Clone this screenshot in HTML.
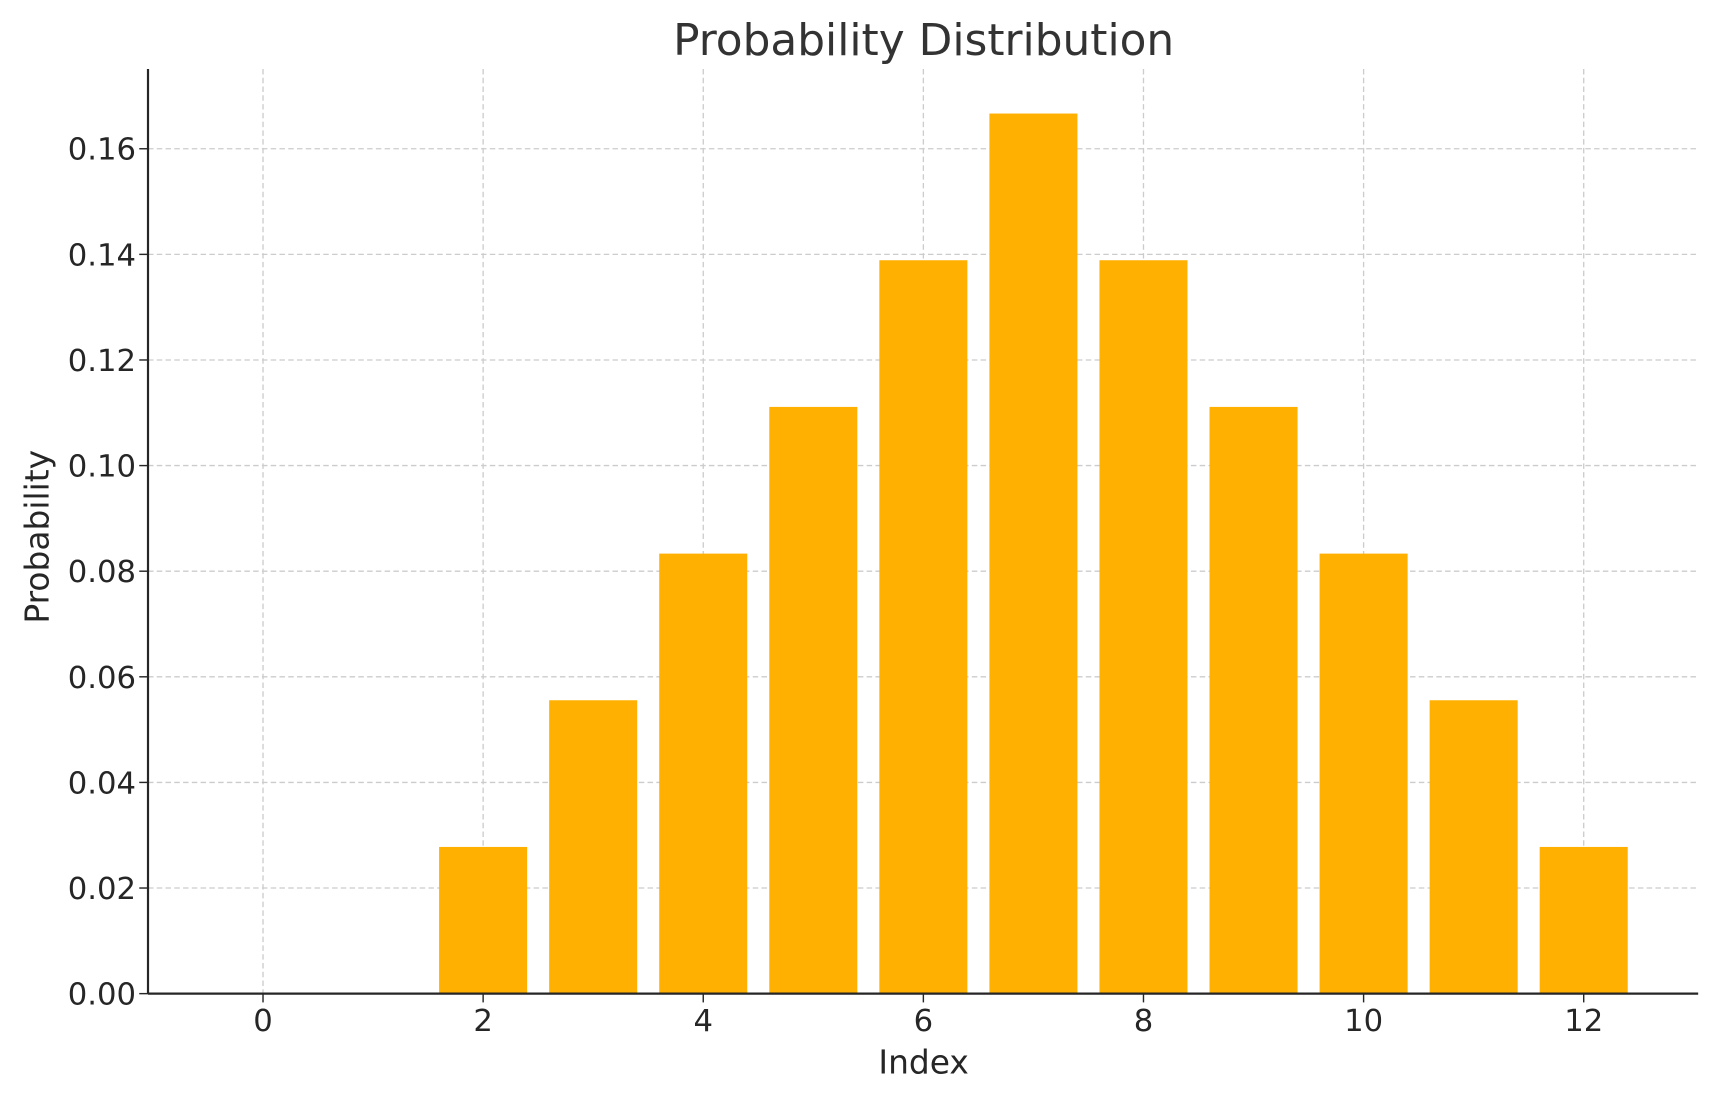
<!DOCTYPE html>
<html><head><meta charset="utf-8"><style>
html,body{margin:0;padding:0;background:#fff;width:1718px;height:1101px;overflow:hidden}
text{font-family:"DejaVu Sans","Liberation Sans",sans-serif;fill:#262626}
</style></head><body>
<svg id="chart" width="1718" height="1101" viewBox="0 0 1568 1005" xmlns="http://www.w3.org/2000/svg">
<g id="grid"></g><g id="bars"></g><g id="axes"></g>
<text x="843" y="50" text-anchor="middle" font-size="40" style="fill:#333">Probability Distribution</text>
<text x="843" y="980" text-anchor="middle" font-size="30">Index</text>
<text transform="translate(44,490) rotate(-90)" text-anchor="middle" font-size="30">Probability</text>
</svg>
<script>
const categories=[0,1,2,3,4,5,6,7,8,9,10,11,12];
const probabilities=[0,0,0.02778,0.05556,0.08333,0.11111,0.13889,0.16667,0.13889,0.11111,0.08333,0.05556,0.02778];
const xTicks=[0,2,4,6,8,10,12];
const yTicks=[0,0.02,0.04,0.06,0.08,0.10,0.12,0.14,0.16];
const yTickLabels=["0.00","0.02","0.04","0.06","0.08","0.10","0.12","0.14","0.16"];
const L=135,R=1550,T=63,B=907,xmin=-1.045,xmax=13.04,ymax=0.1751;
const X=v=>L+(v-xmin)/(xmax-xmin)*(R-L);
const Y=v=>B-v/ymax*(B-T);
const NS="http://www.w3.org/2000/svg";
function mk(t,a,p){const e=document.createElementNS(NS,t);for(const k in a)e.setAttribute(k,a[k]);p.appendChild(e);return e;}
const grid=document.getElementById('grid'),bars=document.getElementById('bars'),axes=document.getElementById('axes');
xTicks.forEach(v=>{
 const g=mk('line',{x1:X(v),x2:X(v),y1:T,y2:B,stroke:'#cccccc','stroke-width':1.2,'stroke-dasharray':'5,3'},grid);
 
 
 const t=mk('line',{x1:X(v),x2:X(v),y1:B,y2:B+8,stroke:'#262626','stroke-width':1.3},axes);
 
 
 const l=mk('text',{x:X(v),y:B+34,'text-anchor':'middle','font-size':28},axes);
 l.textContent=v;
 
 
});
yTicks.forEach((v,i)=>{
 const g=mk('line',{x1:L,x2:R,y1:Y(v),y2:Y(v),stroke:'#cccccc','stroke-width':1.2,'stroke-dasharray':'5,3'},grid);
 
 
 const t=mk('line',{x1:L-8,x2:L,y1:Y(v),y2:Y(v),stroke:'#262626','stroke-width':1.3},axes);
 
 
 const l=mk('text',{x:L-11,y:Y(v)+10,'text-anchor':'end','font-size':28},axes);
 l.textContent=yTickLabels[i];
 
 
});
categories.forEach((c,i)=>{
 const v=probabilities[i];
 const b=mk('rect',{x:X(c-0.4),width:X(c+0.4)-X(c-0.4),y:Y(v),height:B-Y(v),fill:'#ffb000'},bars);
 
 
});
const ax=mk('line',{x1:L,x2:R,y1:B,y2:B,stroke:'#262626','stroke-width':2},axes);


const ay=mk('line',{x1:L,x2:L,y1:T,y2:B,stroke:'#262626','stroke-width':2},axes);


</script>
</body></html>
